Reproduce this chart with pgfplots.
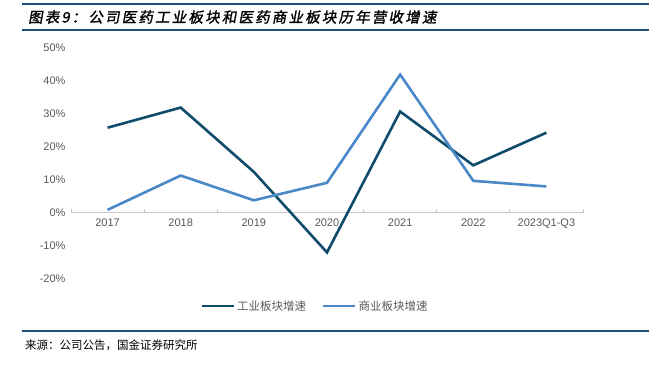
\documentclass[border=0pt]{standalone}
\usepackage{pgfplots}
\pgfplotsset{compat=1.18}
\usepackage{fontspec}
\setmainfont{Liberation Sans}
\newfontfamily\cjk{Noto Sans CJK SC}
\newfontfamily\cjktitle[FakeSlant=0.18,FakeBold=1.5,LetterSpace=15]{Noto Sans CJK SC}
\definecolor{darkline}{HTML}{0F4C6B}
\definecolor{lightline}{HTML}{4A88C7}
\definecolor{ruleblue}{HTML}{1F4E79}
\definecolor{labgray}{HTML}{595959}
\begin{document}
\begin{tikzpicture}[x=1pt,y=1pt]
\useasboundingbox (0,0) rectangle (649,365);
\draw[ruleblue,line width=1.2pt] (22,361) -- (649,361);
\draw[ruleblue,line width=1.8pt] (22,335) -- (649,335);
\node[anchor=west,inner sep=0pt] at (28,348) {\cjktitle\fontsize{14.5}{16}\selectfont 图表9：公司医药工业板块和医药商业板块历年营收增速};
\draw[ruleblue,line width=1.2pt] (22,34) -- (649,34);
\node[anchor=west,inner sep=0pt] at (25,20) {\cjk\fontsize{11.5}{13}\selectfont 来源：公司公告，国金证券研究所};
\begin{axis}[
  at={(71pt,86.5pt)}, anchor=south west,
  scale only axis, width=512pt, height=231pt,
  xmin=-0.5, xmax=6.5, ymin=-20, ymax=50,
  axis x line=middle, axis y line=left,
  x axis line style={-, draw=black!22, line width=0.8pt},
  y axis line style={draw=none},
  every inner x axis line/.append style={-},
  xtick={0,...,6},
  xticklabels={2017,2018,2019,2020,2021,2022,2023Q1-Q3},
  minor xtick={-0.5,0.5,...,6.5},
  major tick length=0pt,
  minor tick length=4pt,
  tick align=inside,
  minor tick style={draw=black!22, line width=0.8pt},
  ytick={-20,-10,...,50},
  ytick style={draw=none},
  yticklabel={\pgfmathprintnumber{\tick}\%},
  /pgf/number format/assume math mode=true,
  tick label style={font=\fontsize{11}{13}\selectfont, text=labgray},
  xticklabel style={yshift=-3pt},
  yticklabel style={xshift=-2pt},
  legend style={at={(0.4766,-0.119)}, anchor=center, draw=none, fill=none,
    legend columns=2, font=\cjk\fontsize{11.5}{13}\selectfont, text=labgray,
    /tikz/every even column/.append style={column sep=14pt}},
  legend image code/.code={\draw[#1] (0pt,0pt) -- (32pt,0pt);},
  clip=false,
]
\addplot[darkline, line width=2.6pt, line join=miter] coordinates {
 (0,25.7) (1,31.8) (2,12.3) (3,-12.1) (4,30.6) (5,14.3) (6,24.2)};
\addlegendentry{工业板块增速}
\addplot[lightline, line width=2.6pt, line join=miter] coordinates {
 (0,0.8) (1,11.2) (2,3.7) (3,9.0) (4,41.8) (5,9.6) (6,7.9)};
\addlegendentry{商业板块增速}
\end{axis}
\end{tikzpicture}
\end{document}
